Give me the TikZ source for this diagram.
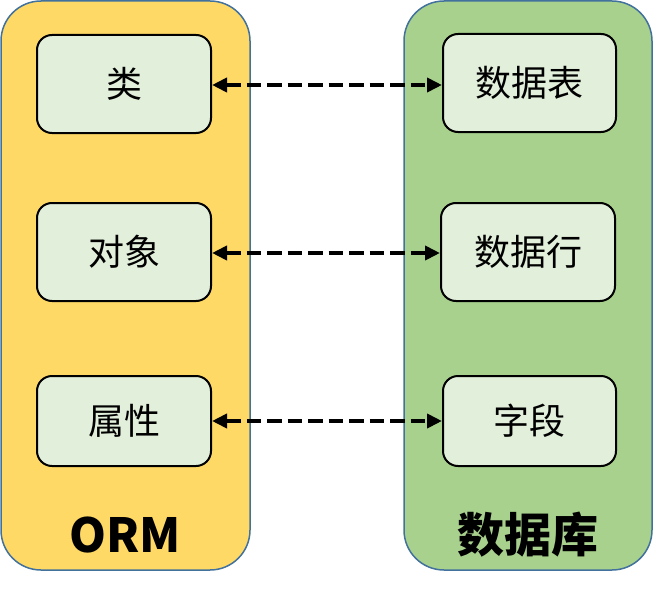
\documentclass[tikz,border=0pt]{standalone}
\usepackage{fontspec}
\setmainfont{Noto Sans CJK SC}
\newfontfamily\cjk{Noto Sans CJK SC}
\usetikzlibrary{arrows.meta}
\definecolor{ormyellow}{HTML}{FFD966}
\definecolor{dbgreen}{HTML}{A9D18E}
\definecolor{boxfill}{HTML}{E2EFDA}
\definecolor{panelborder}{HTML}{41719C}
\begin{document}
\begin{tikzpicture}[x=1pt,y=-1pt,
  panel/.style={draw=panelborder, line width=1.5pt, rounded corners=40pt},
  item/.style={draw=black, line width=2pt, fill=boxfill, rounded corners=15pt, minimum width=174pt, font=\cjk\fontsize{36}{36}\selectfont, inner sep=0pt},
  title/.style={font=\cjk\bfseries\fontsize{47}{47}\selectfont, inner sep=0pt},
  link/.style={line width=4pt, dash pattern=on 14.5pt off 6pt, {Triangle[length=15pt,width=14pt]}-{Triangle[length=15pt,width=14pt]}}
]
\useasboundingbox (0,0) rectangle (653,594);
\draw[panel, fill=ormyellow] (1,1) rectangle (250,570);
\draw[panel, fill=dbgreen] (404,1) rectangle (652,570);

\node[item, minimum height=98pt] (cls) at (124,84) {类};
\node[item, minimum height=98pt] (obj) at (124,252) {对象};
\node[item, minimum height=90pt] (attr) at (124,421) {属性};

\node[item, minimum width=173pt, minimum height=98pt] (tbl) at (529.5,83) {数据表};
\node[item, minimum width=174pt, minimum height=98pt] (row) at (528,252) {数据行};
\node[item, minimum width=173pt, minimum height=90pt] (fld) at (529.5,421) {字段};

\node[title] (orm) at (125,535) {ORM};
\node[title] (db) at (528,535) {数据库};

\draw[link] (cls.east |- 0,85) -- (tbl.west |- 0,85);
\draw[link] (obj.east |- 0,253) -- (row.west |- 0,253);
\draw[link] (attr.east) -- (fld.west);
\end{tikzpicture}
\end{document}
